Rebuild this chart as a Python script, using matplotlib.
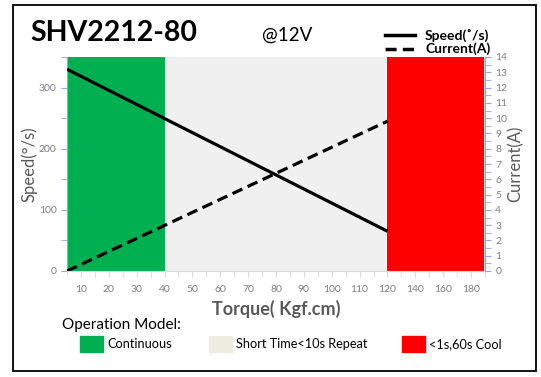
import numpy as np
import matplotlib
matplotlib.use("Agg")
import matplotlib.pyplot as plt
from matplotlib.patches import Rectangle
from matplotlib.lines import Line2D

plt.rcParams['font.family'] = ['Lato', 'DejaVu Sans']

# data
torque_labels = [10, 20, 30, 40, 50, 60, 70, 80, 90, 100, 110, 120, 140, 160, 180]
torque = [5, 120]
speed = [330, 65]
current = [0, 9.8]
continuous_end = 40
burst_start = 120
zones = ["Continuous", "Short Time<10s Repeat", "<1s,60s Cool"]
zone_colors = ["#00B050", "#EEECE1", "#FF0000"]

def pos(t):
    # category axis: 10 steps up to 120, then 20 steps
    t = np.asarray(t, dtype=float)
    return np.where(t <= 120, (t - 10) / 10.0, 11 + (t - 120) / 20.0)

W, H = 541, 377
fig = plt.figure(figsize=(W / 100, H / 100), dpi=100)
ax = fig.add_axes([67 / W, 1 - 271 / H, (485 - 67) / W, (271 - 57) / H])
ax2 = ax.twinx()

gray = "#7F7F7F"
spine_c = "#8EA9DB"
ax.set_facecolor("#F0F0F0")
xmin, xmax = -0.5, 14.5
ax.axvspan(xmin, float(pos(continuous_end)), color=zone_colors[0], lw=0, zorder=1)
ax.axvspan(float(pos(burst_start)), xmax - 0.05, color=zone_colors[2], lw=0, zorder=1)
ax.set_xlim(xmin, xmax)

ax.plot(pos(torque), speed, color="black", lw=2.3, zorder=3, solid_capstyle="butt")
ax2.plot(pos(torque), current, color="black", lw=2.3, ls=(0, (3.4, 1.8)), zorder=3)

ax.set_ylim(0, 350)
ax.set_yticks([0, 100, 200, 300])
ax.set_yticks([50, 150, 250, 350], minor=True)
ax2.set_ylim(0, 14)
ax2.set_yticks(range(0, 15))
ax2.set_yticks(np.arange(0.5, 14, 1), minor=True)

ax.set_xticks(range(len(torque_labels)))
ax.set_xticklabels([str(v) for v in torque_labels])
ax.set_xticks(np.arange(-0.5, 14.6, 1), minor=True)

for a in (ax, ax2):
    for s in a.spines.values():
        s.set_visible(False)
ax.spines['left'].set_visible(True)
ax.spines['left'].set_color(spine_c)
ax.spines['bottom'].set_visible(True)
ax.spines['bottom'].set_color("#D9D9D9")
ax2.spines['right'].set_visible(True)
ax2.spines['right'].set_color(spine_c)

ax.tick_params(axis='x', which='both', length=4, color="#D9D9D9", labelsize=7.5,
               labelcolor=gray, pad=6)
ax.tick_params(axis='y', which='both', length=4, color=spine_c, labelsize=7.5,
               labelcolor=gray)
ax2.tick_params(axis='y', which='both', length=4, color=spine_c, labelsize=7.5,
                labelcolor=gray)

ax.set_ylabel("Speed(°/s)", fontsize=12, color="#595959", labelpad=1)
ax2.set_ylabel("Current(A)", fontsize=12, color="#595959", labelpad=0)
ax.set_xlabel("Torque( Kgf.cm)", fontsize=13, fontweight="bold", color="#595959", labelpad=4)

# title and voltage
fig.text(30 / W, 1 - 33 / H, "SHV2212-80", fontsize=20.5, fontweight="bold", va="center")
fig.text(262 / W, 1 - 35 / H, "@12V", fontsize=13.5, va="center")

# line legend
fig.add_artist(Line2D([385 / W, 415 / W], [1 - 35 / H] * 2, color="black", lw=2.5))
fig.add_artist(Line2D([385 / W, 415 / W], [1 - 49 / H] * 2, color="black", lw=2.5,
                      ls=(0, (3.2, 1.8))))
fig.text(425 / W, 1 - 35 / H, "Speed(˚/s)", fontsize=10, fontweight="bold", va="center")
fig.text(425 / W, 1 - 49 / H, "Current(A)", fontsize=10, fontweight="bold", va="center")

# operation model legend
fig.text(62 / W, 1 - 325 / H, "Operation Model:", fontsize=11, va="center")
px = [80, 209, 402]
for x0, name, c in zip(px, zones, zone_colors):
    fig.add_artist(Rectangle((x0 / W, 1 - 352 / H), 23 / W, 16 / H, color=c,
                             transform=fig.transFigure))
    fig.text((x0 + 27) / W, 1 - 344 / H, name, fontsize=9.2, va="center")

# outer frame
fig.add_artist(Rectangle((13 / W, 1 - 371 / H), 523 / W, 366 / H, fill=False,
                         ec="black", lw=1.3, transform=fig.transFigure))

fig.savefig("out.png", dpi=100)
